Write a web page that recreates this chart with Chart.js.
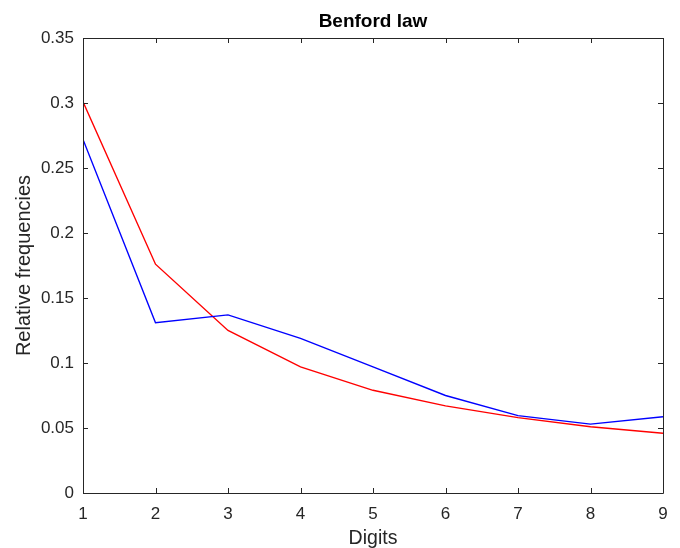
<!DOCTYPE html>
<html>
<head>
<meta charset="utf-8">
<script src="https://cdn.jsdelivr.net/npm/chart.js@4/dist/chart.umd.min.js"></script>
<style>
  html, body { margin: 0; padding: 0; background: #fff; }
  #wrap { width: 680px; height: 548px; }
</style>
</head>
<body>
<div id="wrap"><canvas id="benford" width="680" height="548"></canvas></div>
<script>
// ===== Benford law chart =====

const digits = [1, 2, 3, 4, 5, 6, 7, 8, 9];
const observed = [0.272, 0.131, 0.137, 0.119, 0.097, 0.075, 0.0595, 0.053, 0.0587];
const benford = [0.301, 0.176, 0.125, 0.097, 0.079, 0.067, 0.058, 0.051, 0.046];
const yTicks = [0, 0.05, 0.1, 0.15, 0.2, 0.25, 0.3, 0.35];

const AXIS_COLOR = '#262626';
const FONT = 'Liberation Sans, Arial, Helvetica, sans-serif';

function toPoints(values) {
  return digits.map((d, i) => ({ x: d, y: values[i] }));
}

// MATLAB-style box with inward ticks on all four sides
const boxPlugin = {
  id: 'matlabBox',
  afterDatasetsDraw(chart) {
    const { ctx, chartArea: a, scales: { x, y } } = chart;
    const len = 5;
    ctx.save();
    ctx.strokeStyle = AXIS_COLOR;
    ctx.lineWidth = 1;
    ctx.beginPath();
    ctx.rect(Math.round(a.left) + 0.5, Math.round(a.top) + 0.5,
      Math.round(a.right - a.left), Math.round(a.bottom - a.top));
    digits.forEach(d => {
      const px = Math.round(x.getPixelForValue(d)) + 0.5;
      ctx.moveTo(px, a.bottom); ctx.lineTo(px, a.bottom - len);
      ctx.moveTo(px, a.top); ctx.lineTo(px, a.top + len);
    });
    yTicks.forEach(v => {
      const py = Math.round(y.getPixelForValue(v)) + 0.5;
      ctx.moveTo(a.left, py); ctx.lineTo(a.left + len, py);
      ctx.moveTo(a.right, py); ctx.lineTo(a.right - len, py);
    });
    ctx.stroke();
    ctx.restore();
  }
};

new Chart(document.getElementById('benford').getContext('2d'), {
  type: 'line',
  data: {
    datasets: [
      {
        label: 'Observed',
        data: toPoints(observed),
        borderColor: '#0000ff',
        borderWidth: 1.4,
        pointRadius: 0,
        tension: 0,
        fill: false
      },
      {
        label: 'Benford',
        data: toPoints(benford),
        borderColor: '#ff0000',
        borderWidth: 1.4,
        pointRadius: 0,
        tension: 0,
        fill: false
      }
    ]
  },
  options: {
    responsive: false,
    animation: false,
    layout: { padding: { left: 0, right: 17, top: 0, bottom: 0 } },
    plugins: {
      legend: { display: false },
      tooltip: { enabled: false },
      title: {
        display: true,
        fullSize: false,
        text: 'Benford law',
        color: '#000',
        font: { family: FONT, size: 19, weight: 'bold', lineHeight: 1.2 },
        padding: { top: 10, bottom: 5.2 }
      }
    },
    scales: {
      x: {
        type: 'linear',
        min: 1,
        max: 9,
        afterFit: s => { s.height = 55; },
        afterBuildTicks: s => { s.ticks = digits.map(v => ({ value: v })); },
        ticks: {
          color: AXIS_COLOR,
          font: { family: FONT, size: 17 },
          padding: 11,
          maxRotation: 0,
          callback: v => String(v)
        },
        grid: { display: false, drawTicks: false },
        border: { display: false },
        title: {
          display: true,
          text: 'Digits',
          color: AXIS_COLOR,
          font: { family: FONT, size: 19.5, lineHeight: 1.0 },
          padding: { top: 0, bottom: 0 }
        }
      },
      y: {
        type: 'linear',
        min: 0,
        max: 0.35,
        afterFit: s => { s.width = 83; },
        afterBuildTicks: s => { s.ticks = yTicks.map(v => ({ value: v })); },
        ticks: {
          color: AXIS_COLOR,
          font: { family: FONT, size: 17 },
          padding: 9,
          callback: v => String(+v.toFixed(2))
        },
        grid: { display: false, drawTicks: false },
        border: { display: false },
        title: {
          display: true,
          text: 'Relative frequencies',
          color: AXIS_COLOR,
          font: { family: FONT, size: 20, lineHeight: 1.2 },
          padding: { top: 12, bottom: 0 }
        }
      }
    }
  },
  plugins: [boxPlugin]
});
</script>
</body>
</html>
